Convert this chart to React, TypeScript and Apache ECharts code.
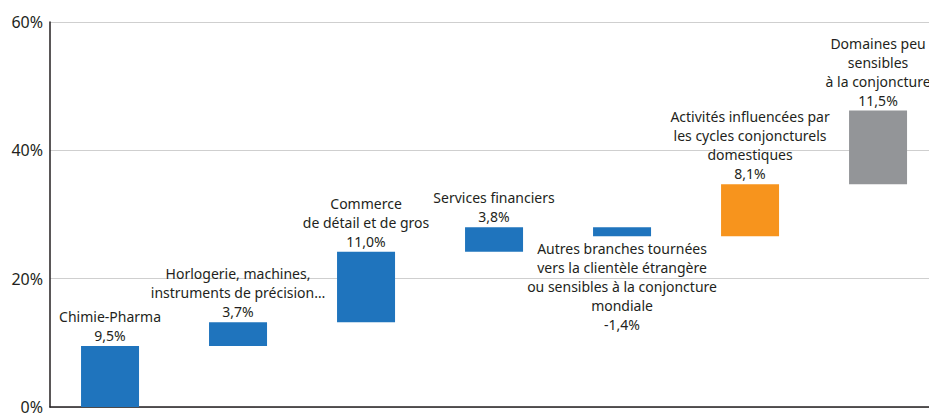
import React, { useEffect, useRef } from "react";
import * as echarts from "echarts";

const categories = [
  "Chimie-Pharma",
  "Horlogerie, machines,\ninstruments de précision…",
  "Commerce\nde détail et de gros",
  "Services financiers",
  "Autres branches tournées\nvers la clientèle étrangère\nou sensibles à la conjoncture\nmondiale",
  "Activités influencées par\nles cycles conjoncturels\ndomestiques",
  "Domaines peu\nsensibles\nà la conjoncture",
];
const deltas = [9.5, 3.7, 11.0, 3.8, -1.4, 8.1, 11.5];
const barColors = ["#1f74bd", "#1f74bd", "#1f74bd", "#1f74bd", "#1f74bd", "#f7941d", "#939598"];
const yTicks = [0, 20, 40, 60];

const fmt = (d: number) => d.toFixed(1).replace(".", ",") + "%";

export default function App() {
  const ref = useRef<HTMLDivElement>(null);
  useEffect(() => {
    const chart = echarts.init(ref.current!, null, { renderer: "svg" });
    let cum = 0;
    const rows: number[][] = [];
    deltas.forEach((d, i) => {
      const start = cum;
      const end = cum + d;
      cum = end;
      rows.push([i, Math.min(start, end), Math.max(start, end)]);
    });
    chart.setOption({
      animation: false,
      textStyle: { fontFamily: "Noto Sans" },
      grid: { left: 50, right: 0, top: 22, bottom: 5 },
      xAxis: {
        type: "value",
        min: -0.469,
        max: 6.398,
        axisLine: { show: true, onZero: false, lineStyle: { color: "#231f20", width: 1.5 } },
        axisTick: { show: false },
        axisLabel: { show: false },
        splitLine: { show: false },
      },
      yAxis: {
        type: "value",
        min: yTicks[0],
        max: yTicks[yTicks.length - 1],
        interval: 20,
        axisLine: { show: true, onZero: false, lineStyle: { color: "#231f20", width: 1.5 } },
        axisTick: { show: false },
        axisLabel: {
          formatter: (v: number) => v + "%",
          color: "#231f20",
          fontSize: 16,
          margin: 7,
          fontFamily: "Noto Sans",
        },
        splitLine: { show: true, lineStyle: { color: "#cfcfcf", width: 1 } },
      },
      series: [
        {
          type: "custom",
          data: rows,
          encode: { x: 0, y: [1, 2] },
          renderItem: (params: any, api: any) => {
            const idx = params.dataIndex;
            const x = api.value(0);
            const lo = api.value(1);
            const hi = api.value(2);
            const pTop = api.coord([x, hi]);
            const pBot = api.coord([x, lo]);
            const w = 58;
            const neg = deltas[idx] < 0;
            return {
              type: "rect",
              shape: { x: pTop[0] - w / 2, y: pTop[1], width: w, height: pBot[1] - pTop[1] },
              style: { fill: barColors[idx] },
              textContent: {
                style: {
                  text: categories[idx] + "\n" + fmt(deltas[idx]),
                  fill: "#231f20",
                  fontSize: 14,
                  lineHeight: 19,
                  fontFamily: "Noto Sans",
                  align: "center",
                },
              },
              textConfig: { position: neg ? "bottom" : "top", distance: neg ? 3 : 1 },
            };
          },
        },
      ],
    });
    return () => chart.dispose();
  }, []);
  return (
    <div
      ref={ref}
      style={{ position: "absolute", left: 0, top: 0, width: 929, height: 415 }}
    />
  );
}
